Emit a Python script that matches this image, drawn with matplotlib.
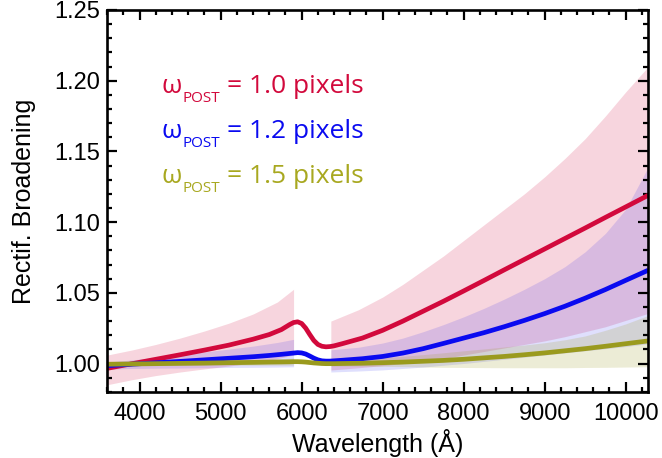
import matplotlib
matplotlib.use('Agg')
import matplotlib.pyplot as plt
from matplotlib.ticker import MultipleLocator, FormatStrFormatter

# ---------------- data ----------------
wl_line = [3600, 3900, 4200, 4500, 4800, 5100, 5400, 5600, 5750, 5850, 5900, 5950, 6000,
           6050, 6100, 6150, 6200, 6250, 6300, 6350, 6400, 6500, 6750, 7000, 7250, 7500,
           7750, 8000, 8250, 8500, 8750, 9000, 9250, 9500, 9750, 10000, 10280]
red_line = [0.9966, 0.9998, 1.0030, 1.0062, 1.0095, 1.0130, 1.0172, 1.0205, 1.0240, 1.0275,
            1.0290, 1.0295, 1.0283, 1.0250, 1.0205, 1.0163, 1.0135, 1.0122, 1.0118, 1.0120,
            1.0125, 1.0140, 1.0180, 1.0235, 1.0300, 1.0370, 1.0440, 1.0513, 1.0587, 1.0662,
            1.0736, 1.0810, 1.0884, 1.0958, 1.1033, 1.1107, 1.1190]
blue_line = [0.9985, 0.9995, 1.0005, 1.0015, 1.0026, 1.0037, 1.0048, 1.0057, 1.0065, 1.0071,
             1.0074, 1.0077, 1.0075, 1.0067, 1.0053, 1.0038, 1.0026, 1.0019, 1.0017, 1.0017,
             1.0019, 1.0023, 1.0034, 1.0050, 1.0074, 1.0105, 1.0142, 1.0180, 1.0218, 1.0260,
             1.0305, 1.0353, 1.0405, 1.0462, 1.0523, 1.0588, 1.0660]
yellow_line = [0.9995, 0.9997, 0.9999, 1.0001, 1.0003, 1.0006, 1.0008, 1.0010, 1.0011, 1.0012,
               1.0013, 1.0013, 1.0012, 1.0010, 1.0007, 1.0004, 1.0002, 1.0000, 0.9999, 0.9999,
               0.9999, 1.0000, 1.0002, 1.0006, 1.0010, 1.0016, 1.0022, 1.0030, 1.0040, 1.0050,
               1.0062, 1.0075, 1.0090, 1.0105, 1.0122, 1.0140, 1.0160]

# uncertainty bands, short-wavelength segment
wl_band1 = [3600, 3900, 4200, 4500, 4800, 5100, 5400, 5700, 5900]
red_hi1 = [1.0060, 1.0095, 1.0135, 1.0180, 1.0230, 1.0285, 1.0350, 1.0435, 1.0525]
red_lo1 = [0.9850, 0.9885, 0.9915, 0.9940, 0.9962, 0.9982, 1.0005, 1.0035, 1.0060]
blue_hi1 = [1.0010, 1.0025, 1.0043, 1.0062, 1.0082, 1.0102, 1.0123, 1.0149, 1.0171]
blue_lo1 = [0.9960, 0.9965, 0.9967, 0.9968, 0.9970, 0.9972, 0.9973, 0.9975, 0.9977]
yellow_hi1 = [1.0005, 1.0009, 1.0012, 1.0015, 1.0019, 1.0023, 1.0027, 1.0033, 1.0038]
yellow_lo1 = [0.9985, 0.9986, 0.9986, 0.9987, 0.9987, 0.9988, 0.9988, 0.9988, 0.9988]

# uncertainty bands, long-wavelength segment
wl_band2 = [6360, 6700, 7000, 7250, 7500, 7750, 8000, 8250, 8500, 8750, 9000, 9250,
            9500, 9750, 10000, 10280]
red_hi2 = [1.030, 1.038, 1.047, 1.056, 1.066, 1.076, 1.087, 1.098, 1.109, 1.120, 1.132,
           1.145, 1.159, 1.175, 1.192, 1.210]
red_lo2 = [0.9954, 0.9970, 0.9985, 1.0000, 1.0015, 1.0035, 1.0060, 1.0085, 1.0110, 1.0135,
           1.0160, 1.0190, 1.0225, 1.0260, 1.0305, 1.0355]
blue_hi2 = [1.0097, 1.0115, 1.0145, 1.0180, 1.0225, 1.0275, 1.0330, 1.0390, 1.0455, 1.0525,
            1.0600, 1.0685, 1.0790, 1.0920, 1.1090, 1.1390]
blue_lo2 = [0.9940, 0.9947, 0.9955, 0.9965, 0.9975, 0.9988, 1.0000, 1.0015, 1.0030, 1.0045,
            1.0060, 1.0075, 1.0090, 1.0105, 1.0120, 1.0140]
yellow_hi2 = [1.0015, 1.0027, 1.0040, 1.0051, 1.0063, 1.0076, 1.0090, 1.0103, 1.0117, 1.0131,
              1.0147, 1.0168, 1.0195, 1.0235, 1.0280, 1.0340]
yellow_lo2 = [0.9983, 0.9982, 0.9980, 0.9978, 0.9975, 0.9973, 0.9972, 0.9971, 0.9970, 0.9970,
              0.9970, 0.9970, 0.9972, 0.9973, 0.9975, 0.9977]

x_ticks = [4000, 5000, 6000, 7000, 8000, 9000, 10000]
y_ticks = [1.00, 1.05, 1.10, 1.15, 1.20, 1.25]
legend_values = ['1.0', '1.2', '1.5']

# ---------------- style ----------------
RED = '#D2093C'
BLUE = '#0A0AF0'
OLIVE = '#9A9A1E'
OLIVE_TXT = '#A8A820'

W, H = 662, 458
fig = plt.figure(figsize=(W / 100, H / 100), dpi=100)
L, R, T, B = 107.3, 648.3, 10.0, 391.8
ax = fig.add_axes([L / W, 1 - B / H, (R - L) / W, (B - T) / H])

for wl, lo, hi in [(wl_band1, red_lo1, red_hi1), (wl_band2, red_lo2, red_hi2)]:
    ax.fill_between(wl, lo, hi, color=RED, alpha=0.17, lw=0)
for wl, lo, hi in [(wl_band1, blue_lo1, blue_hi1), (wl_band2, blue_lo2, blue_hi2)]:
    ax.fill_between(wl, lo, hi, color=BLUE, alpha=0.13, lw=0)
for wl, lo, hi in [(wl_band1, yellow_lo1, yellow_hi1), (wl_band2, yellow_lo2, yellow_hi2)]:
    ax.fill_between(wl, lo, hi, color=OLIVE, alpha=0.18, lw=0)

for vals, col in [(red_line, RED), (blue_line, BLUE), (yellow_line, OLIVE)]:
    ax.plot(wl_line, vals, color=col, lw=3.4, solid_capstyle='butt', solid_joinstyle='round')

ax.set_xlim(3600, 10280)
ax.set_ylim(0.98, 1.25)
ax.set_xticks(x_ticks)
ax.set_yticks(y_ticks)
ax.xaxis.set_minor_locator(MultipleLocator(200))
ax.yaxis.set_minor_locator(MultipleLocator(0.01))
ax.yaxis.set_major_formatter(FormatStrFormatter('%.2f'))
ax.tick_params(which='both', direction='in', top=True, right=True, width=1.6, color='black')
ax.tick_params(which='major', length=7.5)
ax.tick_params(which='minor', length=3.8)
ax.tick_params(axis='x', pad=8)
ax.tick_params(axis='y', pad=5.5)
for lab in ax.get_xticklabels() + ax.get_yticklabels():
    lab.set_fontfamily('Liberation Sans')
    lab.set_fontsize(17)
for sp in ax.spines.values():
    sp.set_linewidth(1.9)

fig.text(378 / W, 1 - 451.7 / H, 'Wavelength (Å)', ha='center', va='baseline',
         fontsize=18, family='Liberation Sans')
fig.text(24 / W, 1 - 201.7 / H, 'Rectif. Broadening', ha='center', va='center',
         rotation=90, fontsize=18, family='Liberation Sans')

# legend-like annotations
leg_colors = [RED, BLUE, OLIVE_TXT]
baselines = [93.3, 138.3, 183.3]
for val, col, yb in zip(legend_values, leg_colors, baselines):
    fig.text(161.7 / W, 1 - yb / H, 'ω', color=col, fontsize=19,
             family=['Open Sans', 'DejaVu Sans'], va='baseline', ha='left')
    fig.text(182.7 / W, 1 - (yb + 8.4) / H, 'POST', color=col, fontsize=11,
             family=['Open Sans', 'DejaVu Sans'], va='baseline', ha='left')
    fig.text(227.3 / W, 1 - yb / H, '= ' + val + ' pixels', color=col, fontsize=19,
             family=['Open Sans', 'DejaVu Sans'], va='baseline', ha='left')

fig.savefig('out.png', dpi=100)
